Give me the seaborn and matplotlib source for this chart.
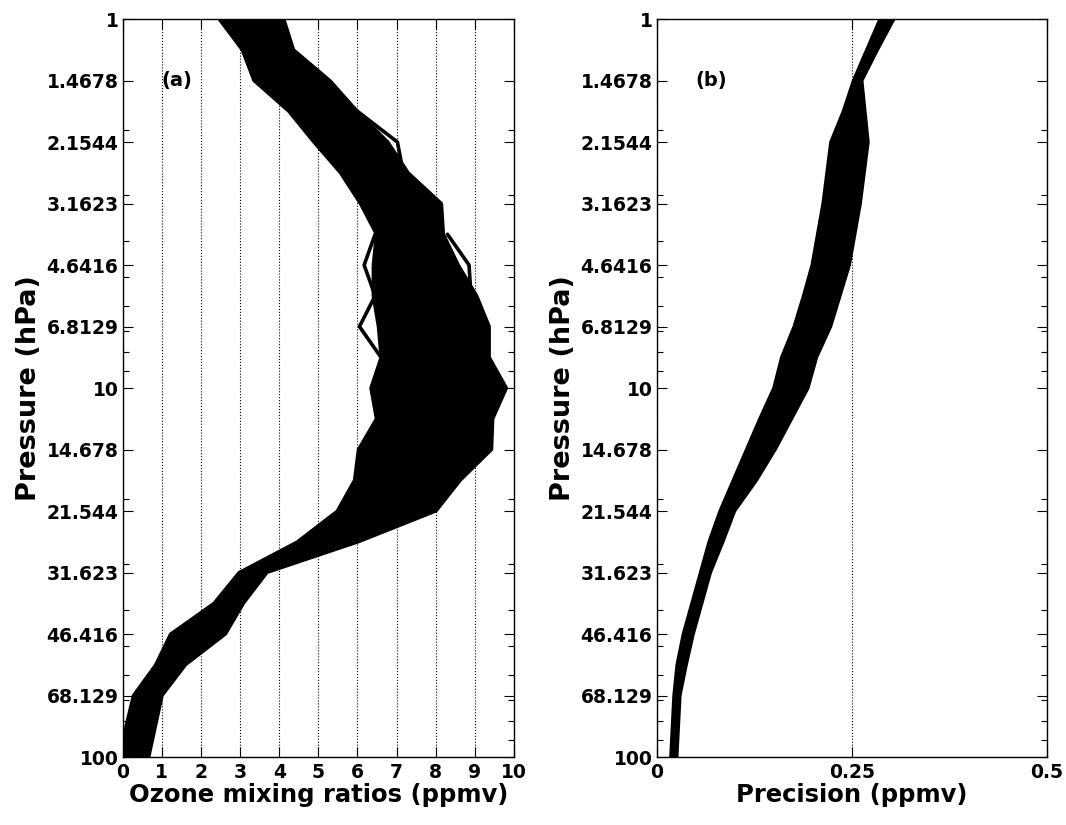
import numpy as np
import pandas as pd
import matplotlib
matplotlib.use("Agg")
import matplotlib.pyplot as plt
import seaborn as sns

# pressure levels (hPa), 12 per decade
pressure = [1.0, 1.2115, 1.4678, 1.7783, 2.1544, 2.6102, 3.1623, 3.8312, 4.6416,
            5.6234, 6.8129, 8.2540, 10.0, 12.115, 14.678, 17.783, 21.544, 26.102,
            31.623, 38.312, 46.416, 56.234, 68.129, 82.540, 100.0]

# panel (a): envelope of the ozone profiles (ppmv)
ozone_min = [2.46, 3.05, 3.35, 4.24, 4.88, 5.56, 6.07, 6.48, 6.40, 6.40, 6.53, 6.60,
             6.34, 6.48, 6.02, 5.92, 5.48, 4.46, 2.97, 2.33, 1.22, 0.84, 0.27, 0.08, 0.02]
ozone_max = [4.12, 4.37, 5.30, 6.00, 6.78, 7.30, 8.15, 8.20, 8.58, 9.05, 9.37, 9.37,
             9.81, 9.46, 9.43, 8.63, 8.01, 6.03, 3.69, 3.09, 2.63, 1.61, 1.01, 0.84, 0.67]

# a few profiles that stick out of the band
out1_p = [1.7783, 2.1544, 2.6102, 3.1623]
out1_v = [6.00, 7.02, 7.17, 8.00]
out2_p = [3.8312, 4.6416, 5.6234, 6.8129, 8.2540]
out2_v = [6.45, 6.17, 6.45, 6.05, 6.60]
out3_p = [3.8312, 4.6416, 5.6234]
out3_v = [8.30, 8.85, 8.90]

# panel (b): envelope of the precision (ppmv)
prec_min = [0.286, 0.269, 0.252, 0.239, 0.223, 0.218, 0.213, 0.206, 0.199, 0.188,
            0.176, 0.160, 0.150, 0.132, 0.115, 0.098, 0.081, 0.067, 0.056, 0.045,
            0.034, 0.026, 0.022, 0.020, 0.018]
prec_max = [0.304, 0.283, 0.263, 0.267, 0.271, 0.266, 0.261, 0.254, 0.247, 0.235,
            0.223, 0.205, 0.194, 0.173, 0.152, 0.128, 0.100, 0.085, 0.069, 0.058,
            0.047, 0.038, 0.030, 0.028, 0.026]

ytick_vals = [1, 1.4678, 2.1544, 3.1623, 4.6416, 6.8129, 10, 14.678, 21.544,
              31.623, 46.416, 68.129, 100]
ytick_labels = ['1', '1.4678', '2.1544', '3.1623', '4.6416', '6.8129', '10',
                '14.678', '21.544', '31.623', '46.416', '68.129', '100']

sns.set_style("ticks")
plt.rcParams['font.family'] = ['DejaVu Sans']
plt.rcParams['font.weight'] = 'bold'
plt.rcParams['text.color'] = 'black'
plt.rcParams['axes.labelcolor'] = 'black'
plt.rcParams['xtick.color'] = 'black'
plt.rcParams['ytick.color'] = 'black'

fig = plt.figure(figsize=(10.66, 8.25), dpi=100)
ax1 = fig.add_axes([0.1151, 0.0824, 0.3671, 0.8945])
ax2 = fig.add_axes([0.6160, 0.0824, 0.3661, 0.8945])


def draw_band(ax, lo, hi):
    ax.fill_betweenx(pressure, lo, hi, color='black', lw=0)
    for vals in (lo, hi):
        sns.lineplot(x=vals, y=pressure, orient='y', sort=False, estimator=None,
                     color='black', lw=2.2, ax=ax)


def style_axis(ax, xlim, xticks, xlabel, tag, tag_x):
    ax.set_yscale('log')
    ax.set_ylim(100, 1)
    ax.set_xlim(*xlim)
    ax.set_xticks(xticks)
    ax.set_yticks(ytick_vals)
    ax.set_yticklabels(ytick_labels)
    ax.yaxis.set_minor_locator(matplotlib.ticker.LogLocator(base=10, subs=np.arange(2, 10)))
    ax.yaxis.set_minor_formatter(matplotlib.ticker.NullFormatter())
    ax.tick_params(which='both', direction='in', top=True, right=True,
                   labelsize=13.5, width=0.8, color='black', labelcolor='black')
    ax.tick_params(axis='y', pad=3)
    ax.tick_params(axis='x', pad=4)
    ax.tick_params(which='major', length=7)
    ax.tick_params(which='minor', length=4)
    for lab in ax.get_xticklabels() + ax.get_yticklabels():
        lab.set_fontweight('bold')
    ax.xaxis.grid(True, linestyle=':', color='black', lw=0.8)
    ax.yaxis.grid(False)
    for s in ax.spines.values():
        s.set_visible(True)
        s.set_color('black')
        s.set_linewidth(1.0)
    ax.set_xlabel(xlabel, fontsize=17.5, fontweight='bold', labelpad=1, color='black')
    ax.set_ylabel('Pressure (hPa)', fontsize=19.5, fontweight='bold', labelpad=3,
                  color='black')
    ax.text(tag_x, 1.4678, tag, fontsize=14, fontweight='bold', va='center', ha='left',
            color='black')


# panel (a)
draw_band(ax1, ozone_min, ozone_max)
for pp, vv in [(out1_p, out1_v), (out2_p, out2_v), (out3_p, out3_v)]:
    sns.lineplot(x=vv, y=pp, orient='y', sort=False, estimator=None,
                 color='black', lw=2.6, ax=ax1)
style_axis(ax1, (0, 10), range(0, 11), 'Ozone mixing ratios (ppmv)', '(a)', 1.0)

# panel (b)
draw_band(ax2, prec_min, prec_max)
style_axis(ax2, (0, 0.5), [0, 0.25, 0.5], 'Precision (ppmv)', '(b)', 0.05)
ax2.set_xticklabels(['0', '0.25', '0.5'])

plt.savefig("out.png", dpi=100)
plt.close()
